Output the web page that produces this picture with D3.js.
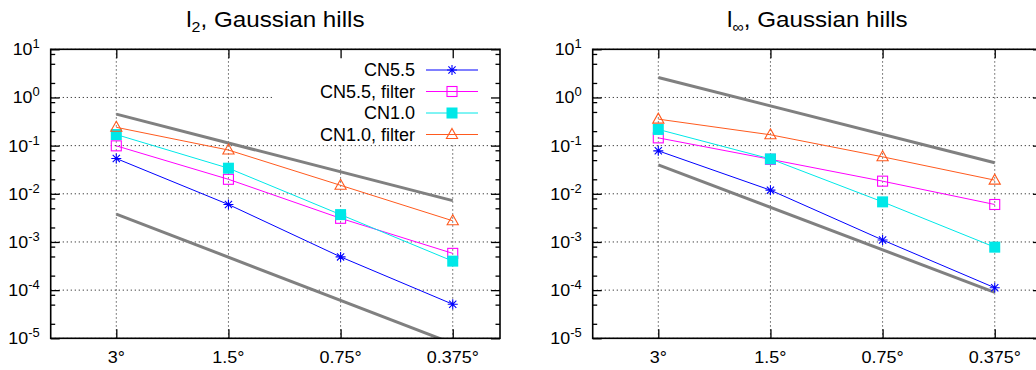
<!DOCTYPE html>
<html>
<head>
<meta charset="utf-8">
<script src="https://cdn.jsdelivr.net/npm/d3@7"></script>
<style>
  body { margin: 0; background: #fff; }
  text { font-family: "Liberation Sans", Arial, sans-serif; fill: #000; }
</style>
</head>
<body>
<div id="vis"></div>
<script>
const WIDTH = 1036;
const HEIGHT = 370;

// grid resolutions (x axis) and their labels
const degrees = [3, 1.5, 0.75, 0.375];
const degreeLabels = ["3°", "1.5°", "0.75°", "0.375°"];
const seriesNames = ["CN5.5", "CN5.5, filter", "CN1.0", "CN1.0, filter"];
const decades = [-5, -4, -3, -2, -1, 0, 1];

// l2 errors
const l2CN55 = [0.054, 0.006, 4.9e-4, 5.1e-5];
const l2CN55f = [0.099, 0.020, 3.1e-3, 5.8e-4];
const l2CN10 = [0.17, 0.034, 3.7e-3, 4.0e-4];
const l2CN10f = [0.24, 0.081, 0.015, 2.75e-3];
const l2RefUpper = [0.45, 0.0072];
const l2RefLower = [0.0038, 7.8e-6];

// linf errors
const liCN55 = [0.078, 0.0119, 1.1e-3, 1.12e-4];
const liCN55f = [0.145, 0.052, 0.0183, 6.0e-3];
const liCN10 = [0.217, 0.053, 6.8e-3, 7.8e-4];
const liCN10f = [0.355, 0.168, 0.0586, 0.0192];
const liRefUpper = [2.6, 0.044];
const liRefLower = [0.04, 9e-5];

const refDegrees = [3, 0.375];

const COLORS = ["#0000ff", "#ff00ff", "#00e8e8", "#ff5a1e"];
const SYMBOLS = ["star", "square", "fsquare", "triangle"];

const TOP = 49.3, BOTTOM = 338.3;

const svg = d3.select("#vis").append("svg")
    .attr("width", WIDTH).attr("height", HEIGHT);

const panels = [
    { left: 50.7, right: 500, sub: "2", series: [l2CN55, l2CN55f, l2CN10, l2CN10f], refs: [l2RefUpper, l2RefLower], legend: true },
    { left: 592.7, right: 1042, sub: "∞", series: [liCN55, liCN55f, liCN10, liCN10f], refs: [liRefUpper, liRefLower], legend: false }
];

function drawSymbol(g, type, color) {
    if (type === "star") {
        g.append("path")
            .attr("d", "M-5,0H5M0,-5V5M-3.6,-3.6L3.6,3.6M-3.6,3.6L3.6,-3.6")
            .attr("stroke", color).attr("stroke-width", 1.1).attr("fill", "none");
    } else if (type === "square") {
        g.append("rect").attr("x", -5).attr("y", -5).attr("width", 10).attr("height", 10)
            .attr("stroke", color).attr("stroke-width", 1.1).attr("fill", "none");
    } else if (type === "fsquare") {
        g.append("rect").attr("x", -5.5).attr("y", -5.5).attr("width", 11).attr("height", 11)
            .attr("fill", color);
    } else {
        g.append("path").attr("d", "M0,-6L5.6,4L-5.6,4Z")
            .attr("stroke", color).attr("stroke-width", 1.1).attr("fill", "none");
    }
}

panels.forEach((p, pi) => {
    const x = d3.scaleLog().domain([4.5, 0.28]).range([p.left, p.right]);
    const y = d3.scaleLog().domain([1e-5, 10]).range([BOTTOM, TOP]);
    const majorY = decades.map(d => Math.pow(10, d));
    const minorY = [];
    decades.slice(0, -1).forEach(d => [2, 5, 8].forEach(m => minorY.push(m * Math.pow(10, d))));

    const g = svg.append("g");

    g.append("clipPath").attr("id", "clip" + pi)
        .append("rect").attr("x", p.left).attr("y", TOP)
        .attr("width", p.right - p.left).attr("height", BOTTOM - TOP);

    // grid
    const grid = g.append("g").attr("stroke", "#444").attr("stroke-width", 1)
        .attr("stroke-dasharray", "1.3,2.7");
    grid.selectAll(".gy").data(majorY).enter().append("line")
        .attr("x1", p.left).attr("x2", p.right)
        .attr("y1", d => y(d)).attr("y2", d => y(d));
    grid.selectAll(".gx").data(degrees).enter().append("line")
        .attr("x1", d => x(d)).attr("x2", d => x(d))
        .attr("y1", TOP).attr("y2", BOTTOM);

    // legend background hides grid
    if (p.legend) {
        g.append("rect").attr("x", 273).attr("y", TOP + 1)
            .attr("width", p.right - 273).attr("height", 144 - TOP - 1).attr("fill", "#fff");
    }

    const plot = g.append("g").attr("clip-path", `url(#clip${pi})`);

    // reference slopes
    p.refs.forEach(r => {
        plot.append("path")
            .attr("d", d3.line().x((d, i) => x(refDegrees[i])).y(d => y(d))(r))
            .attr("stroke", "#808080").attr("stroke-width", 3).attr("fill", "none");
    });

    // series
    p.series.forEach((s, si) => {
        plot.append("path")
            .attr("d", d3.line().x((d, i) => x(degrees[i])).y(d => y(d))(s))
            .attr("stroke", COLORS[si]).attr("stroke-width", 1).attr("fill", "none");
        s.forEach((v, i) => {
            const mg = plot.append("g").attr("transform", `translate(${x(degrees[i])},${y(v)})`);
            drawSymbol(mg, SYMBOLS[si], COLORS[si]);
        });
    });

    // ticks via d3 axes
    const tickStyle = a => {
        a.select(".domain").remove();
        a.selectAll("line").attr("stroke", "#000").attr("stroke-width", 1.3);
    };
    g.append("g").attr("transform", `translate(${p.left},0)`)
        .call(d3.axisLeft(y).tickValues(majorY).tickSize(-9).tickFormat("")).call(tickStyle);
    g.append("g").attr("transform", `translate(${p.left},0)`)
        .call(d3.axisLeft(y).tickValues(minorY).tickSize(-4.5).tickFormat("")).call(tickStyle);
    g.append("g").attr("transform", `translate(${p.right},0)`)
        .call(d3.axisRight(y).tickValues(majorY).tickSize(-9).tickFormat("")).call(tickStyle);
    g.append("g").attr("transform", `translate(${p.right},0)`)
        .call(d3.axisRight(y).tickValues(minorY).tickSize(-4.5).tickFormat("")).call(tickStyle);
    g.append("g").attr("transform", `translate(0,${BOTTOM})`)
        .call(d3.axisBottom(x).tickValues(degrees).tickSize(-9).tickFormat("")).call(tickStyle);
    g.append("g").attr("transform", `translate(0,${TOP})`)
        .call(d3.axisTop(x).tickValues(degrees).tickSize(-9).tickFormat("")).call(tickStyle);

    // border
    g.append("rect").attr("x", p.left).attr("y", TOP)
        .attr("width", p.right - p.left).attr("height", BOTTOM - TOP)
        .attr("fill", "none").attr("stroke", "#000").attr("stroke-width", 1.6);

    // y tick labels
    decades.forEach(d => {
        const t = g.append("text")
            .attr("transform", `translate(${p.left - 11},${y(Math.pow(10, d)) + 6}) scale(1.08,1)`)
            .attr("text-anchor", "end").style("font-size", "16.5px");
        t.append("tspan").text("10");
        t.append("tspan").attr("dy", -7).style("font-size", "12px").text(String(d));
    });

    // x tick labels
    degrees.forEach((d, i) => {
        g.append("text")
            .attr("transform", `translate(${x(d)},${363}) scale(1.09,1)`)
            .attr("text-anchor", "middle").style("font-size", "16.5px")
            .text(degreeLabels[i]);
    });

    // title
    const title = g.append("text")
        .attr("transform", `translate(${(p.left + p.right) / 2},27) scale(1.1,1)`)
        .attr("text-anchor", "middle").style("font-size", "22px");
    title.append("tspan").text("l");
    title.append("tspan").attr("dy", 5).style("font-size", "14.5px").text(p.sub);
    title.append("tspan").attr("dy", -5).text(", Gaussian hills");

    // legend
    if (p.legend) {
        seriesNames.forEach((name, si) => {
            const ly = 70 + si * 21.5;
            g.append("text").attr("x", 415).attr("y", ly).attr("dy", "0.36em")
                .attr("text-anchor", "end").style("font-size", "18px").text(name);
            g.append("line").attr("x1", 426).attr("x2", 478).attr("y1", ly).attr("y2", ly)
                .attr("stroke", COLORS[si]).attr("stroke-width", 1);
            const mg = g.append("g").attr("transform", `translate(452,${ly})`);
            drawSymbol(mg, SYMBOLS[si], COLORS[si]);
        });
    }
});
</script>
</body>
</html>
